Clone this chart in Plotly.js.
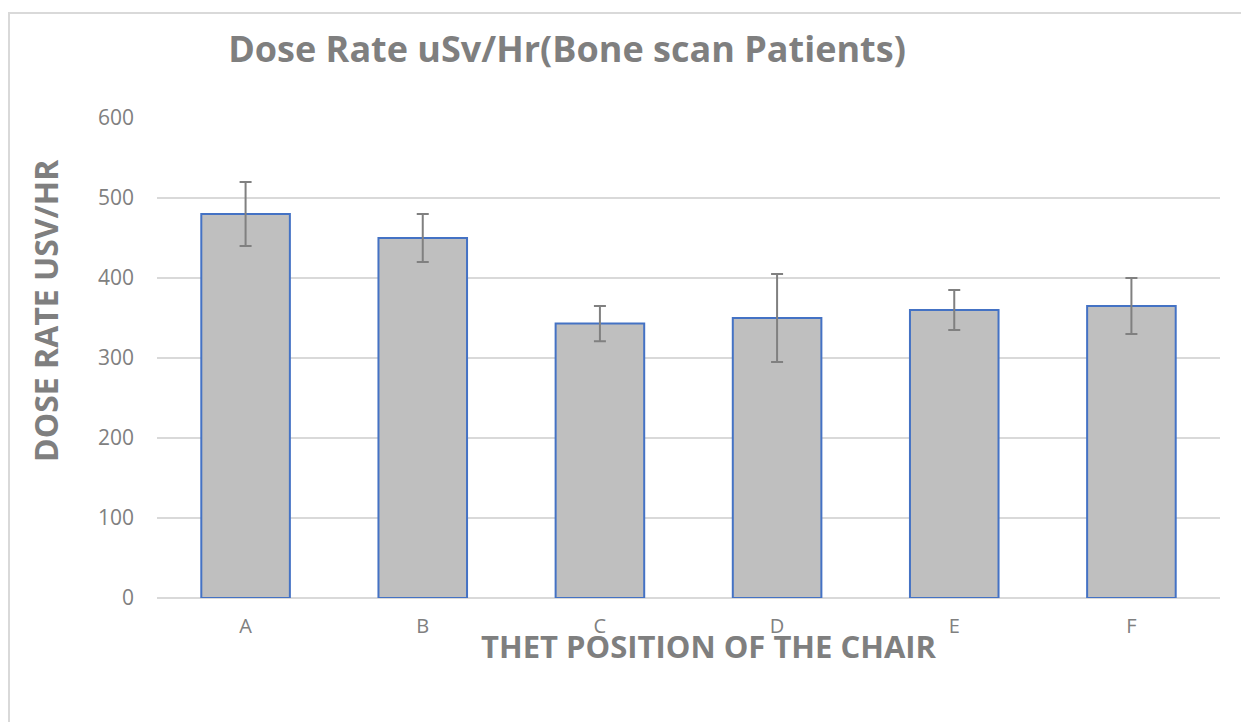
<!DOCTYPE html>
<html>
<head>
<meta charset="utf-8">
<script src="https://cdn.plot.ly/plotly-3.0.1.min.js"></script>
<style>
  html, body { margin: 0; padding: 0; background: #ffffff; }
  #wrap { position: relative; width: 1241px; height: 722px; overflow: hidden; }
  #frame { position: absolute; left: 8px; top: 12px; width: 1400px; height: 900px;
           border: 2px solid #d9d9d9; box-sizing: border-box; }
  #chart { position: absolute; left: 0; top: 0; width: 1241px; height: 722px; }
</style>
</head>
<body>
<div id="wrap">
  <div id="frame"></div>
  <div id="chart"></div>
</div>
<script>
const categories = ['A', 'B', 'C', 'D', 'E', 'F'];
const doseRate = [480, 450, 343, 350, 360, 365];
const errorValues = [40, 30, 22, 55, 25, 35];
const yTickValues = [0, 100, 200, 300, 400, 500, 600];

const chartTitle = 'Dose Rate uSv/Hr(Bone scan Patients)';
const xTitle = 'THET POSITION OF THE CHAIR';
const yTitle = 'DOSE RATE USV/HR';

const textGray = '#7f7f7f';
const font = '"Open Sans", "Liberation Sans", sans-serif';

const trace = {
  type: 'bar',
  x: categories,
  y: doseRate,
  marker: { color: '#bfbfbf', line: { color: '#4472c4', width: 2 } },
  error_y: { type: 'data', array: errorValues, visible: true,
             color: '#808080', thickness: 2, width: 6 },
  hoverinfo: 'x+y'
};

const layout = {
  width: 1241, height: 722,
  margin: { l: 157, r: 21, t: 118, b: 124 },
  paper_bgcolor: 'rgba(0,0,0,0)',
  plot_bgcolor: 'rgba(0,0,0,0)',
  showlegend: false,
  bargap: 0.5,
  font: { family: font, color: textGray },
  title: {
    text: '<b>' + chartTitle + '</b>',
    font: { family: font, size: 36, color: textGray },
    xref: 'container', yref: 'container',
    x: 567 / 1241, y: 1 - 49 / 722, xanchor: 'center', yanchor: 'middle'
  },
  xaxis: {
    type: 'category',
    tickfont: { family: font, size: 20, color: '#808080' },
    showgrid: false, zeroline: false, showline: false,
    ticks: '', ticklabelstandoff: 14,
    title: { text: '' }
  },
  yaxis: {
    range: [0, 600],
    tickvals: yTickValues,
    tickfont: { family: font, size: 21, color: '#808080' },
    showgrid: true, gridcolor: '#d9d9d9', gridwidth: 2,
    zeroline: true, zerolinecolor: '#d9d9d9', zerolinewidth: 2,
    showline: false, ticks: '', ticklabelstandoff: 22,
    title: { text: '' }
  },
  annotations: [
    {
      text: '<b>' + xTitle + '</b>',
      xref: 'paper', yref: 'paper',
      x: (709 - 157) / 1063, y: -(646 - 598) / 480,
      xanchor: 'center', yanchor: 'middle', showarrow: false,
      font: { family: font, size: 31, color: textGray }
    },
    {
      text: '<b>' + yTitle + '</b>',
      xref: 'paper', yref: 'paper',
      x: -(157 - 45) / 1063, y: (598 - 311) / 480,
      xanchor: 'center', yanchor: 'middle', showarrow: false, textangle: -90,
      font: { family: font, size: 32, color: textGray }
    }
  ]
};

Plotly.newPlot('chart', [trace], layout, { displayModeBar: false, staticPlot: true });
</script>
</body>
</html>
